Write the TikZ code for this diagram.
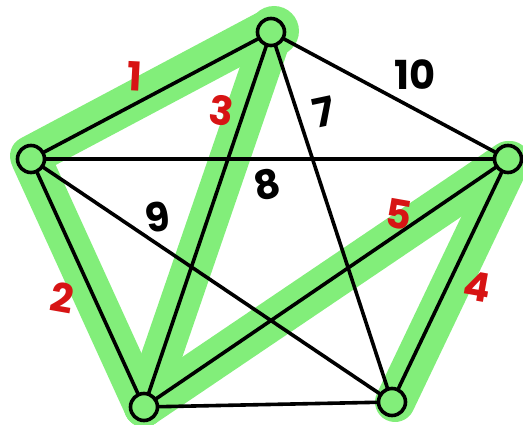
\documentclass[tikz,border=0pt]{standalone}
\usepackage{fontspec}
\setmainfont{Poppins}
\definecolor{hl}{RGB}{130,238,122}
\definecolor{rednum}{RGB}{215,20,20}
\begin{document}
\begin{tikzpicture}[x=1pt,y=-1pt,
  vert/.style={circle,draw=black,line width=3.6pt,fill=hl,minimum size=27pt,inner sep=0pt},
  gedge/.style={line width=3.6pt,black},
  glow/.style={line width=40pt,hl,line cap=round,line join=round},
  num/.style={font=\fontsize{40}{40}\selectfont\bfseries,inner sep=0pt},
  rnum/.style={num,text=rednum}]
\clip (0,0) rectangle (523,425);
\useasboundingbox (0,0) rectangle (523,425);
\coordinate (pT) at (271,32);
\coordinate (pL) at (31,159);
\coordinate (pR) at (508,159);
\coordinate (pBL) at (144,407);
\coordinate (pBR) at (392,402);
% highlighted route
\draw[glow] ([shift={(-1,-3)}]pL) -- ([shift={(0,-4)}]pT);
\draw[glow] ([shift={(2,0)}]pT) -- (pBL);
\draw[glow] (pL) -- (pBL);
\draw[glow] (pBL) -- ([shift={(0,2)}]pR);
\draw[glow] ([shift={(2,2)}]pR) -- ([shift={(3,0)}]pBR);
\fill[hl] (274,31) circle[radius=25pt];
% connectors
\draw[gedge] (pT) -- (pL) (pT) -- (pR) (pT) -- (pBL) (pT) -- (pBR)
  (pL) -- (pR) (pL) -- (pBL) (pL) -- (pBR)
  (pR) -- (pBL) (pR) -- (pBR) (pBL) -- (pBR);
\node[vert] (T) at (pT) {};
\node[vert] (L) at (pL) {};
\node[vert] (R) at (pR) {};
\node[vert] (BL) at (pBL) {};
\node[vert] (BR) at (pBR) {};
\node[rnum,rotate=-3] (n1) at (135,76) {1};
\node[rnum,rotate=-8] (n3) at (222,111) {3};
\node[num,rotate=12] (n7) at (324,112) {7};
\node[num] (n10) at (415,75) {10};
\node[num,rotate=12] (n8) at (267,185) {8};
\node[num,rotate=8] (n9) at (158,217) {9};
\node[rnum,rotate=-10] (n2) at (62,298) {2};
\node[rnum,rotate=-10] (n5) at (399,214) {5};
\node[rnum,rotate=-10] (n4) at (477,287) {4};
\node[num,rotate=15] (n6) at (272,443) {6};
\end{tikzpicture}
\end{document}
